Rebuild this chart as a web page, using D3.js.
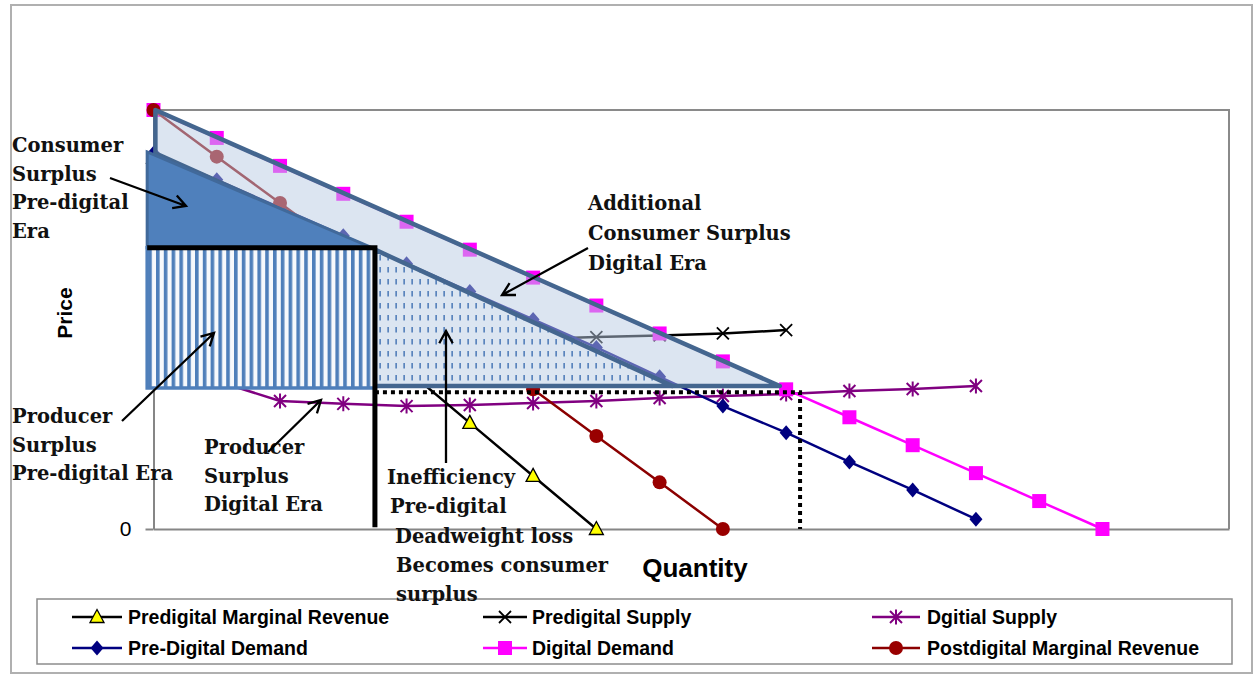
<!DOCTYPE html>
<html><head><meta charset="utf-8">
<script src="https://cdn.jsdelivr.net/npm/d3@7"></script>
<style>
body{margin:0;background:#fff;}
svg{display:block;}
</style></head><body>
<svg id="chart" width="1256" height="674"></svg>
<script>
// ---------- data ----------
const categories = [0,1,2,3,4,5,6,7,8,9,10,11,12,13,14,15,16];
const yTickLabels = ["0"];
const predigitalMR      = [13.3, 11.4, 9.5, 7.6, 5.7, 3.8, 1.9, 0];
const predigitalSupply  = [null, null, null, null, null, 6.75, 6.8, 6.87, 6.93, 7.0, 7.12];
const digitalSupply     = [6.2, 5.3, 4.58, 4.48, 4.4, 4.44, 4.51, 4.58, 4.69, 4.76, 4.83, 4.94, 5.01, 5.12];
const preDigitalDemand  = [13.45, 12.5, 11.5, 10.5, 9.5, 8.5, 7.5, 6.5, 5.45, 4.4, 3.45, 2.4, 1.4, 0.35];
const digitalDemand     = [15, 14, 13, 12, 11, 10, 9, 8, 7, 6, 5, 4, 3, 2, 1, 0];
const postdigitalMR     = [15, 13.33, 11.67, 10, 8.33, 6.67, 5, 3.33, 1.67, 0];

const seriesNames = ["Predigital Marginal Revenue","Predigital Supply","Dgitial Supply",
                     "Pre-Digital Demand","Digital Demand","Postdigital Marginal Revenue"];

// shaded regions (data units: [category position, price])
const additionalSurplus = [[0.03,15],[9.9,5.12],[8.2,5.12],[0.03,13.45]];
const deadweightLoss    = [[3.5,10.0],[8.2,5.12],[3.5,5.12]];
const consumerSurplusPre= [[-0.1,13.5],[3.45,10.07],[-0.1,10.07]];
const producerSurplusPre= [[-0.1,10.07],[3.5,10.07],[3.5,5.05],[-0.1,5.05]];
const monopolyOutline   = [[-0.1,10.07],[3.5,10.07],[3.5,0.06]];
const competitiveGuide  = [[3.5,4.9],[10.22,4.9],[10.22,0]];

// ---------- setup ----------
const svg = d3.select("#chart");
const x = d3.scaleLinear().domain([0,17]).range([153.5,1229]);
const y = d3.scaleLinear().domain([0,15]).range([529,110]);

const defs = svg.append("defs");
const stripes = defs.append("pattern").attr("id","stripes").attr("patternUnits","userSpaceOnUse")
  .attr("width",7.8).attr("height",10);
stripes.append("rect").attr("width",7.8).attr("height",10).attr("fill","#f7f9fc");
stripes.append("rect").attr("x",0).attr("width",3.6).attr("height",10).attr("fill","#4f7fba");
const dashes = defs.append("pattern").attr("id","dashes").attr("patternUnits","userSpaceOnUse")
  .attr("width",8).attr("height",12);
dashes.append("rect").attr("width",8).attr("height",12).attr("fill","#dbe5f1");
dashes.append("rect").attr("x",3.3).attr("y",3).attr("width",1.7).attr("height",5.5).attr("fill","#5a84bd");

// chart border
svg.append("rect").attr("x",11).attr("y",5).attr("width",1241).attr("height",668)
  .attr("fill","none").attr("stroke","#b0b0b0").attr("stroke-width",2);

// plot frame
svg.append("path").attr("d",`M${x(0)},${y(15)}H${x(17)}V${y(0)}`)
  .attr("fill","none").attr("stroke","#8a8a8a").attr("stroke-width",2);

// axes
const yAxis = svg.append("g").attr("transform",`translate(${x(0)},0)`)
  .call(d3.axisLeft(y).tickValues([0]).tickFormat((d,i)=>yTickLabels[i]).tickSize(8).tickSizeOuter(0).tickPadding(14));
const xAxis = svg.append("g").attr("transform",`translate(0,${y(0)})`)
  .call(d3.axisBottom(x).tickValues([]).tickSizeOuter(0));
[yAxis,xAxis].forEach(a=>{
  a.select(".domain").attr("stroke","#868686").attr("stroke-width",2);
  a.selectAll(".tick line").attr("stroke","#868686").attr("stroke-width",2);
  a.selectAll(".tick text").attr("font-family","Arial, 'Liberation Sans', sans-serif")
    .attr("font-size",21).attr("fill","#000");
});

// ---------- markers ----------
function marker(g, type, cx, cy) {
  const t = g.append("g").attr("transform",`translate(${cx},${cy})`);
  switch(type){
    case "triangle":
      t.append("path").attr("d","M0,-7.5L7,5.5L-7,5.5Z").attr("fill","#ffff00").attr("stroke","#000").attr("stroke-width",1.3); break;
    case "x":
      t.append("path").attr("d","M-6,-6L6,6M-6,6L6,-6").attr("stroke","#000").attr("stroke-width",1.8).attr("fill","none"); break;
    case "star":
      t.append("path").attr("d","M-6,-6L6,6M-6,6L6,-6M0,-7.5L0,7.5").attr("stroke","#800080").attr("stroke-width",2).attr("fill","none"); break;
    case "diamond":
      t.append("path").attr("d","M0,-7.5L6.5,0L0,7.5L-6.5,0Z").attr("fill","#000080"); break;
    case "square":
      t.append("rect").attr("x",-7).attr("y",-7).attr("width",14).attr("height",14).attr("fill","#ff00ff"); break;
    case "circle":
      t.append("circle").attr("r",7).attr("fill","#990000"); break;
  }
}

const series = [
  {name:seriesNames[0], data:predigitalMR,     color:"#000000", m:"triangle"},
  {name:seriesNames[1], data:predigitalSupply, color:"#000000", m:"x"},
  {name:seriesNames[2], data:digitalSupply,    color:"#800080", m:"star"},
  {name:seriesNames[3], data:preDigitalDemand, color:"#000080", m:"diamond"},
  {name:seriesNames[4], data:digitalDemand,    color:"#ff00ff", m:"square"},
  {name:seriesNames[5], data:postdigitalMR,    color:"#8b0000", m:"circle"}
];
const drawOrder = [2,1,0,3,4,5];
const line = d3.line().defined(d=>d[1]!==null).x(d=>x(d[0])).y(d=>y(d[1]));
const gSeries = svg.append("g");
drawOrder.forEach(k=>{
  const s = series[k];
  const pts = s.data.map((v,i)=>[categories[i],v]);
  gSeries.append("path").attr("d",line(pts)).attr("fill","none")
    .attr("stroke",s.color).attr("stroke-width",2.5);
  pts.filter(p=>p[1]!==null).forEach(p=>marker(gSeries,s.m,x(p[0]),y(p[1])));
});

// ---------- shaded regions ----------
const poly = pts => "M" + pts.map(p=>`${x(p[0])},${y(p[1])}`).join("L") + "Z";
const open = pts => "M" + pts.map(p=>`${x(p[0])},${y(p[1])}`).join("L");

svg.append("path").attr("d",poly(additionalSurplus)).attr("fill","#b9cce4").attr("fill-opacity",0.5)
  .attr("stroke","#44668f").attr("stroke-width",4.5).attr("stroke-linejoin","round");
svg.append("path").attr("d",poly(deadweightLoss)).attr("fill","url(#dashes)")
  .attr("stroke","#44668f").attr("stroke-width",4.5).attr("stroke-linejoin","round");
svg.append("path").attr("d",poly(consumerSurplusPre)).attr("fill","#4f80bc")
  .attr("stroke","#41699a").attr("stroke-width",3);
svg.append("path").attr("d",poly(producerSurplusPre)).attr("fill","url(#stripes)")
  .attr("stroke","#4f7fba").attr("stroke-width",3.5);
svg.append("path").attr("d",open(monopolyOutline)).attr("fill","none")
  .attr("stroke","#000").attr("stroke-width",5);
svg.append("path").attr("d",open(competitiveGuide)).attr("fill","none")
  .attr("stroke","#000").attr("stroke-width",4).attr("stroke-dasharray","4,4");

// ---------- legend ----------
const lg = svg.append("g");
lg.append("rect").attr("x",37).attr("y",599).attr("width",1195).attr("height",65)
  .attr("fill","#fff").attr("stroke","#8c8c8c").attr("stroke-width",1.5);
const cols = [{l:72,r:122,t:128},{l:483,r:527,t:532},{l:872,r:920,t:927}];
const rows = [617,648];
series.forEach((s,i)=>{
  const c = cols[i%3], ry = rows[Math.floor(i/3)];
  lg.append("line").attr("x1",c.l).attr("x2",c.r).attr("y1",ry).attr("y2",ry)
    .attr("stroke",s.color).attr("stroke-width",2.5);
  marker(lg,s.m,(c.l+c.r)/2,ry);
  lg.append("text").attr("x",c.t).attr("y",ry+7)
    .attr("font-family","Arial, 'Liberation Sans', sans-serif").attr("font-weight","bold").attr("font-size",19.5)
    .text(s.name);
});

// ---------- axis titles ----------
svg.append("text").attr("transform","translate(72,313) rotate(-90)").attr("text-anchor","middle")
  .attr("font-family","Arial, 'Liberation Sans', sans-serif").attr("font-weight","bold").attr("font-size",21)
  .text("Price");
svg.append("text").attr("x",695).attr("y",577).attr("text-anchor","middle")
  .attr("font-family","Arial, 'Liberation Sans', sans-serif").attr("font-weight","bold").attr("font-size",26)
  .text("Quantity");

// ---------- annotations ----------
const ann = svg.append("g").attr("font-family","'DejaVu Serif', serif").attr("font-weight","bold")
  .attr("font-size",19.5).attr("fill","#111");
function block(x0, y0, lines, lh, indents){
  lines.forEach((t,i)=>ann.append("text").attr("x",x0+(indents?indents[i]:0)).attr("y",y0+i*lh).text(t));
}
block(12,152,["Consumer","Surplus","Pre-digital","Era"],28.7);
block(588,210,["Additional","Consumer Surplus","Digital Era"],30);
block(12,423,["Producer","Surplus","Pre-digital Era"],28.7);
block(204,454,["Producer","Surplus","Digital Era"],28.5);
block(387,484,["Inefficiency","Pre-digital","Deadweight loss","Becomes consumer","surplus"],29.3,[0,3,8,9,9]);

function arrow(x1,y1,x2,y2){
  const a = Math.atan2(y2-y1,x2-x1), L=14, sp=0.5;
  const p1=[x2-L*Math.cos(a-sp), y2-L*Math.sin(a-sp)];
  const p2=[x2-L*Math.cos(a+sp), y2-L*Math.sin(a+sp)];
  svg.append("path").attr("d",`M${x1},${y1}L${x2},${y2}M${p1[0]},${p1[1]}L${x2},${y2}L${p2[0]},${p2[1]}`)
    .attr("fill","none").attr("stroke","#000").attr("stroke-width",2.3);
}
arrow(110,178,186,206);
arrow(588,248,502,295);
arrow(122,421,214,333);
arrow(268,452,321,400);
arrow(446,463,446,331);
</script>
</body></html>
